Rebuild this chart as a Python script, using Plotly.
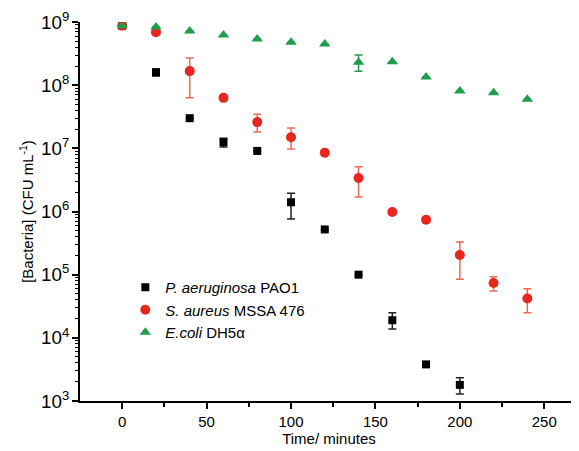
import plotly.graph_objects as go

t_pa = [0, 20, 40, 60, 80, 100, 120, 140, 160, 180, 200]
pa = [8.7e8, 1.6e8, 3.0e7, 1.25e7, 9.1e6, 1.4e6, 5.2e5, 1.0e5, 1.9e4, 3.8e3, 1.8e3]
pa_plus = [0.5e8, 0.2e8, 0, 0.2e7, 0, 0.55e6, 0, 0, 6e3, 0, 540]
pa_minus = [0.5e8, 0.2e8, 0, 0.2e7, 0, 0.64e6, 0, 0, 5.2e3, 0, 510]

t_sa = [0, 20, 40, 60, 80, 100, 120, 140, 160, 180, 200, 220, 240]
sa = [8.7e8, 6.9e8, 1.67e8, 6.3e7, 2.6e7, 1.5e7, 8.5e6, 3.4e6, 9.8e5, 7.4e5, 2.05e5, 7.4e4, 4.2e4]
sa_plus = [0, 0, 1.03e8, 0, 0.87e7, 0.6e7, 0, 1.7e6, 0, 0, 1.25e5, 1.9e4, 1.8e4]
sa_minus = [0, 0, 1.04e8, 0, 0.78e7, 0.52e7, 0, 1.7e6, 0, 0, 1.2e5, 1.9e4, 1.7e4]

t_ec = [0, 20, 40, 60, 80, 100, 120, 140, 160, 180, 200, 220, 240]
ec = [8.7e8, 8.3e8, 7.2e8, 6.2e8, 5.4e8, 4.8e8, 4.5e8, 2.3e8, 2.35e8, 1.35e8, 8.1e7, 7.6e7, 6.0e7]
ec_plus = [0, 0, 0, 0, 0, 0, 0, 0.7e8, 0, 0, 0, 0, 0]
ec_minus = [0, 0, 0, 0, 0, 0, 0, 0.64e8, 0, 0, 0, 0, 0]

x_ticks = [0, 50, 100, 150, 200, 250]

FONT = "Liberation Sans, Arial, sans-serif"

fig = go.Figure()
fig.add_trace(go.Scatter(
    x=t_pa, y=pa, mode="markers", name="<i>P. aeruginosa</i> PAO1",
    marker=dict(symbol="square", size=8, color="black"),
    error_y=dict(type="data", symmetric=False, array=pa_plus, arrayminus=pa_minus,
                 color="#222222", thickness=1.5, width=4),
))
fig.add_trace(go.Scatter(
    x=t_sa, y=sa, mode="markers", name="<i>S. aureus</i> MSSA 476",
    marker=dict(symbol="circle", size=10, color="#e8261e"),
    error_y=dict(type="data", symmetric=False, array=sa_plus, arrayminus=sa_minus,
                 color="#ec6a55", thickness=1.5, width=4),
))
fig.add_trace(go.Scatter(
    x=t_ec, y=ec, mode="markers", name="<i>E.coli</i> DH5α",
    marker=dict(symbol="triangle-up", size=10, color="#1e9e4a"),
    error_y=dict(type="data", symmetric=False, array=ec_plus, arrayminus=ec_minus,
                 color="#1e9e4a", thickness=1.5, width=4),
))

fig.update_layout(
    width=571, height=443,
    margin=dict(l=72, r=1, t=14, b=50, autoexpand=False),
    paper_bgcolor="white", plot_bgcolor="white",
    font=dict(family=FONT, size=15, color="black"),
    showlegend=True,
    legend=dict(x=0.091, y=0.343, xanchor="left", yanchor="top",
                bgcolor="rgba(0,0,0,0)", font=dict(size=15, family=FONT),
                tracegroupgap=0, itemsizing="trace"),
)
fig.update_xaxes(
    range=[-25, 270], tickvals=x_ticks, showgrid=False, zeroline=False,
    automargin=False,
    showline=True, linecolor="black", linewidth=1.5,
    ticks="outside", ticklen=6, tickwidth=1.5, tickcolor="black",
    minor=dict(tickvals=[25, 75, 125, 175, 225], ticks="outside", ticklen=4,
               tickwidth=1.5, tickcolor="black", showgrid=False),
    title=dict(text="Time/ minutes", font=dict(size=15), standoff=4),
    tickfont=dict(size=15),
)
fig.update_yaxes(
    type="log", range=[3, 9], dtick=1, exponentformat="power",
    showgrid=False, zeroline=False, automargin=False,
    showline=True, linecolor="black", linewidth=1.5,
    ticks="outside", ticklen=6, tickwidth=1.5, tickcolor="black",
    minor=dict(ticks="outside", ticklen=3, tickwidth=1, tickcolor="black",
               dtick="D1", showgrid=False),
    title=dict(text="[Bacteria] (CFU mL<sup>-1</sup>)", font=dict(size=15), standoff=4),
    tickfont=dict(size=15),
)

fig.write_html("out.html")
